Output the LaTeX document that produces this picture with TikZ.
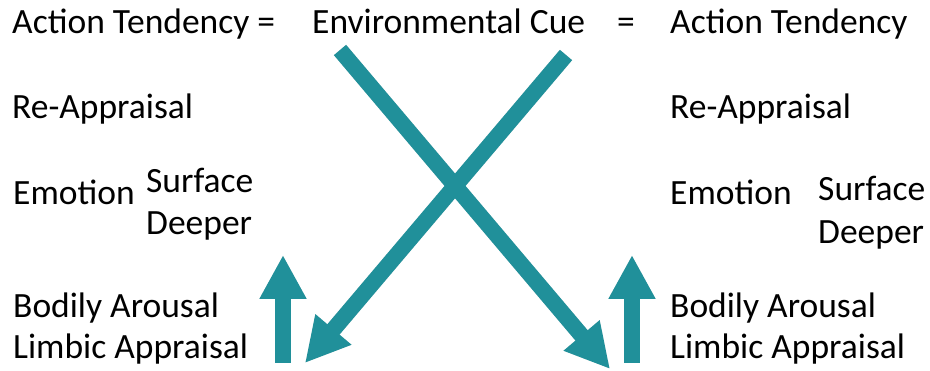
\documentclass[tikz,border=0pt]{standalone}
\usepackage{fontspec}
\setmainfont{Carlito}
\usetikzlibrary{arrows.meta}
\definecolor{teal1}{HTML}{20909A}
\begin{document}
\begin{tikzpicture}[x=1pt,y=-1pt,
  lbl/.style={anchor=base west,inner sep=0pt,font=\fontsize{35.5}{42}\selectfont},
  bigarrow/.style={draw=teal1,line width=16pt,-{Triangle[width=44pt,length=44pt]}},
  shadowarrow/.style={draw=black!35,opacity=0.35,line width=16pt,-{Triangle[width=44pt,length=44pt]}}]
\useasboundingbox (0,0) rectangle (930,371);
% text
\node[lbl] (at1) at (12,34) {Action Tendency =};
\node[lbl] (env) at (312,34) {Environmental Cue};
\node[lbl] (eq) at (617,34) {=};
\node[lbl] (at2) at (670,34) {Action Tendency};
\node[lbl] (ra1) at (12,119) {Re-Appraisal};
\node[lbl] (ra2) at (670,119) {Re-Appraisal};
\node[lbl] (em1) at (13,205) {Emotion};
\node[lbl] (su1) at (146,193) {Surface};
\node[lbl] (de1) at (146,235) {Deeper};
\node[lbl] (em2) at (670,205) {Emotion};
\node[lbl] (su2) at (818,201) {Surface};
\node[lbl] (de2) at (818,244) {Deeper};
\node[lbl] (ba1) at (13,318) {Bodily Arousal};
\node[lbl] (la1) at (13,359) {Limbic Appraisal};
\node[lbl] (ba2) at (670,318) {Bodily Arousal};
\node[lbl] (la2) at (670,359) {Limbic Appraisal};
% arrow endpoints
\coordinate (s1) at (340,50);
\coordinate (t1) at (610,369);
\coordinate (s2) at (566,55);
\coordinate (t2) at (305,363);
\coordinate (u1b) at (283,363);
\coordinate (u1t) at (283,255);
\coordinate (u2b) at (632,363);
\coordinate (u2t) at (632,255);
% shadows
\begin{scope}[shift={(1.5,2)}]
\draw[shadowarrow] (s1) -- (t1);
\draw[shadowarrow] (s2) -- (t2);
\draw[shadowarrow] (u1b) -- (u1t);
\draw[shadowarrow] (u2b) -- (u2t);
\end{scope}
% arrows
\draw[bigarrow] (s1) -- (t1);
\draw[bigarrow] (s2) -- (t2);
\draw[bigarrow] (u1b) -- (u1t);
\draw[bigarrow] (u2b) -- (u2t);
\end{tikzpicture}
\end{document}
